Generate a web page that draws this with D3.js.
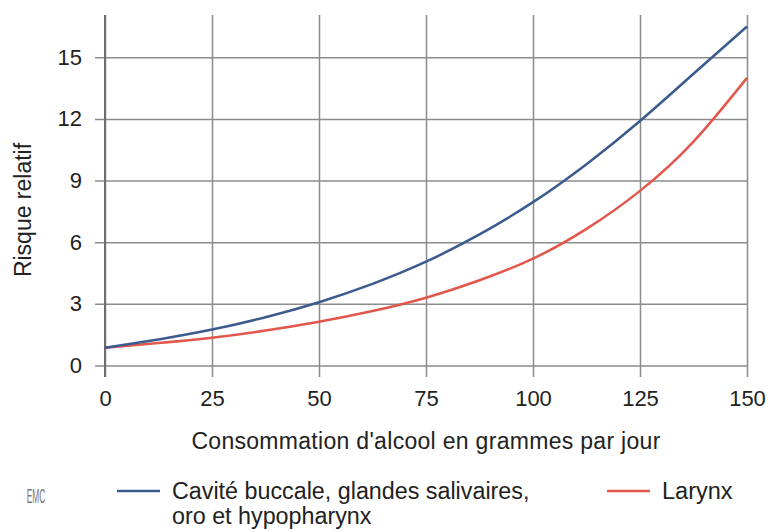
<!DOCTYPE html>
<html>
<head>
<meta charset="utf-8">
<script src="https://cdn.jsdelivr.net/npm/d3@7"></script>
<style>
  body { margin: 0; background: #fff; }
  svg text { font-family: "Liberation Sans", Arial, sans-serif; fill: #222; }
</style>
</head>
<body>
<div id="chart"></div>
<script>
// grammes d'alcool par jour
var doses = [0, 12.5, 25, 37.5, 50, 62.5, 75, 87.5, 100, 112.5, 125, 137.5, 150];
// risque relatif
var cavite = [0.86, 1.27, 1.75, 2.35, 3.08, 3.97, 5.05, 6.38, 7.95, 9.8, 11.9, 14.2, 16.5];
var larynx = [0.86, 1.09, 1.35, 1.7, 2.13, 2.65, 3.3, 4.15, 5.2, 6.65, 8.5, 10.9, 14.0];

var xTicks = [0, 25, 50, 75, 100, 125, 150];
var yTicks = [0, 3, 6, 9, 12, 15];

var seriesNames = ["Cavité buccale, glandes salivaires,", "oro et hypopharynx"];

var width = 769,
	height = 531;

var x = d3.scaleLinear().domain([0, 150]).range([105, 747]);
var y = d3.scaleLinear().domain([0, 15]).range([365.5, 57.3]);

var svg = d3.select("#chart")
	.append("svg")
	.attr("width", width)
	.attr("height", height);

// grille horizontale + etiquettes Y
var yAxis = svg.append("g")
	.attr("transform", "translate(748,0)")
	.call(d3.axisLeft(y).tickValues(yTicks).tickSize(653).tickPadding(13));
yAxis.select(".domain").remove();
yAxis.selectAll("line").attr("stroke", "#8c8c8c").attr("stroke-width", 1.5);
yAxis.selectAll("text").style("font-size", "22px").attr("fill", "#222");

// grille verticale + etiquettes X
var xAxis = svg.append("g")
	.attr("transform", "translate(0,15)")
	.call(d3.axisBottom(x).tickValues(xTicks).tickSize(362).tickPadding(13));
xAxis.select(".domain").remove();
xAxis.selectAll("line").attr("stroke", "#8c8c8c").attr("stroke-width", 1.5);
xAxis.selectAll("text").style("font-size", "22px").attr("fill", "#222");

// axe vertical
svg.append("line")
	.attr("x1", x(0)).attr("x2", x(0))
	.attr("y1", 15).attr("y2", 377)
	.attr("stroke", "#6e6e6e")
	.attr("stroke-width", 2);

var line = d3.line()
	.x(function(d, i) { return x(doses[i]); })
	.y(function(d) { return y(d); })
	.curve(d3.curveNatural);

svg.append("path")
	.datum(larynx)
	.attr("d", line)
	.attr("fill", "none")
	.attr("stroke", "#e2574c")
	.attr("stroke-width", 2.5);

svg.append("path")
	.datum(cavite)
	.attr("d", line)
	.attr("fill", "none")
	.attr("stroke", "#3b5b8e")
	.attr("stroke-width", 2.5);

// titres des axes
svg.append("text")
	.attr("x", 426)
	.attr("y", 449)
	.attr("text-anchor", "middle")
	.style("font-size", "23px")
	.style("letter-spacing", "0.3px")
	.text("Consommation d'alcool en grammes par jour");

svg.append("text")
	.attr("transform", "translate(31,210) rotate(-90)")
	.attr("text-anchor", "middle")
	.style("font-size", "23px")
	.text("Risque relatif");

// legende
svg.append("line")
	.attr("x1", 117).attr("x2", 160)
	.attr("y1", 491).attr("y2", 491)
	.attr("stroke", "#3b5b8e").attr("stroke-width", 2.5);

svg.append("text")
	.attr("x", 172)
	.attr("y", 499)
	.style("font-size", "23.3px")
	.selectAll("tspan")
	.data(seriesNames)
	.enter().append("tspan")
	.attr("x", 172)
	.attr("dy", function(d, i) { return i ? 25 : 0; })
	.text(function(d) { return d; });

svg.append("line")
	.attr("x1", 607).attr("x2", 650)
	.attr("y1", 491).attr("y2", 491)
	.attr("stroke", "#e2574c").attr("stroke-width", 2.5);

svg.append("text")
	.attr("x", 662)
	.attr("y", 499)
	.style("font-size", "23.5px")
	.text("Larynx");

// logo EMC
svg.append("text")
	.attr("transform", "translate(36,503) scale(0.6,1.4)")
	.attr("text-anchor", "middle")
	.style("font-size", "14px")
	.style("fill", "#777")
	.text("EMC");
</script>
</body>
</html>
